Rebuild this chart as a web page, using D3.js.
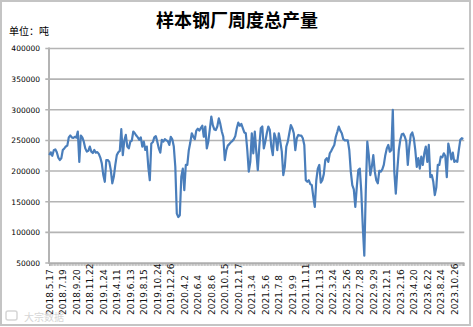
<!DOCTYPE html>
<html>
<head>
<meta charset="utf-8">
<script src="https://cdn.jsdelivr.net/npm/d3@7"></script>
<style>
body { margin: 0; background: #fff; }
</style>
</head>
<body>
<div id="chart"></div>
<script>
// weekly output of sample steel mills (tons)
var output = [
    226000, 230600, 225000, 234000, 235500, 230600, 222000, 218000, 220800, 234400,
    237000, 240000, 241500, 255000, 258000, 255000, 254000, 256000, 254600, 264500,
    215000, 258000, 255000, 248000, 237000, 231700, 233000, 240000, 231700, 229500,
    234400, 230000, 231000, 228000, 222000, 212600, 193500, 182500, 218000, 218000,
    215000, 201600, 180000, 190700, 210000, 226000, 230600, 233000, 268300, 226000,
    249700, 259000, 240000, 237000, 248000, 249700, 264500, 261700, 258000, 255000,
    251000, 255000, 240000, 248000, 234400, 240000, 207000, 185000, 245000,
    247000, 255000, 257000, 248000, 237000, 230000, 251000, 248000, 252000, 250000,
    249000, 242600, 256000, 252000, 240000, 207000, 130600, 125000, 128000, 190700,
    204000, 169000, 210000, 210000, 234000, 246500, 261700, 256000, 252000, 266000,
    269000, 266000, 270000, 274000, 256000, 272700, 237000, 248000, 268000, 289000,
    275000, 268000, 267000, 272700, 286000, 277000, 264500, 256000, 218000, 234000,
    241500, 244000, 247000, 249000, 252000, 257000, 270000, 279000, 274000, 277000,
    270000, 263000, 261700, 234000, 199000, 215000, 261700, 229000, 264500, 231700,
    201600, 240000, 270000, 272700, 237000, 248000, 261700, 272700, 267000, 240000,
    226000, 261700, 253600, 234000, 261700, 248000, 231700, 193500, 207000, 240000,
    248000, 261700, 275000, 270000, 261700, 234000, 253600, 259000, 258000, 258000,
    253600, 242600, 185000, 182500, 185000, 178700, 177000, 158000, 141500, 185000,
    204000, 210000, 181000, 185000, 195000, 218000, 221000, 215000, 229000, 233000,
    238000, 242600, 256000, 264000, 272700, 266000, 261700, 252000, 250000, 250000,
    250000, 234000, 199000, 177000, 170000, 141500, 174000, 201600,
    204000, 166000, 109000, 62000, 169000, 248000, 226000, 193500, 207000, 226000,
    199000, 185000, 180000, 200500, 199000, 202700, 210000, 226000, 237000, 242600,
    231700, 234000, 300000, 199000, 163000, 201600, 234000, 251000, 260000, 261000,
    256000, 248000, 210000, 240000, 259000, 263000, 253600, 234000, 207000, 221000,
    204000, 223500, 210000, 229000, 240000, 215000, 242600, 190000, 193500, 182500,
    160700, 173000, 210000, 210000, 223500, 222400, 229000, 224600, 190000, 245000,
    234000, 219000, 230000, 215000, 217000, 215000, 234000, 251000, 253600, 252500
];

// one date label every 9 weeks
var dateLabels = [
    "2018.5.17", "2018.7.19", "2018.9.20", "2018.11.22", "2019.1.24", "2019.4.11",
    "2019.6.13", "2019.8.15", "2019.10.24", "2019.12.26", "2020.4.2", "2020.6.4",
    "2020.8.6", "2020.10.15", "2020.12.17", "2021.3.4", "2021.5.6", "2021.7.8",
    "2021.9.9", "2021.11.11", "2022.1.13", "2022.3.24", "2022.5.26", "2022.7.28",
    "2022.9.29", "2022.12.1", "2023.2.16", "2023.4.20", "2023.6.22", "2023.8.24",
    "2023.10.26"
];
var labelStep = 9;

var yTicks = [50000, 100000, 150000, 200000, 250000, 300000, 350000, 400000];

var W = 473, H = 327;
var plotLeft = 49.3, plotRight = 463.3, plotTop = 48.5, plotBottom = 263;

var svg = d3.select("#chart").append("svg")
    .attr("width", W)
    .attr("height", H)
    .style("display", "block");

// outer frame
svg.append("rect")
    .attr("x", 1).attr("y", 1)
    .attr("width", W - 4).attr("height", H - 3)
    .attr("fill", "#fff")
    .attr("stroke", "#c4c4c4")
    .attr("stroke-width", 2);

// Title and unit
svg.append("text")
    .text("样本钢厂周度总产量")
    .attr("x", 237)
    .attr("y", 27)
    .attr("text-anchor", "middle")
    .attr("font-family", "Noto Sans CJK SC")
    .attr("font-weight", "bold")
    .attr("font-size", "18px")
    .attr("fill", "#000");

svg.append("text")
    .text("单位：吨")
    .attr("x", 9)
    .attr("y", 35)
    .attr("font-family", "Noto Sans CJK SC")
    .attr("font-size", "10px")
    .attr("fill", "#000");

//Scales
var x = d3.scalePoint()
    .domain(d3.range(output.length))
    .range([plotLeft, plotRight]);

var y = d3.scaleLinear()
    .domain([50000, 400000])
    .range([plotBottom, plotTop]);

//Grid lines
svg.append("g")
    .selectAll("line")
    .data(yTicks)
    .enter().append("line")
    .attr("x1", plotLeft - 4)
    .attr("x2", plotRight + 1)
    .attr("y1", function (d) { return y(d); })
    .attr("y2", function (d) { return y(d); })
    .attr("stroke", "#b4b4b4")
    .attr("stroke-width", 1.6);

//Y Axis labels
var yAxis = svg.append("g")
    .attr("transform", "translate(" + (plotLeft - 0.3) + ",0)")
    .call(d3.axisLeft(y).tickValues(yTicks).tickSize(0).tickPadding(9).tickFormat(d3.format("d")));
yAxis.select(".domain").remove();
yAxis.selectAll("text")
    .attr("font-family", "DejaVu Sans")
    .attr("font-size", "7.5px")
    .attr("fill", "#000");

svg.append("line")
    .attr("x1", plotLeft - 0.3).attr("x2", plotLeft - 0.3)
    .attr("y1", plotTop - 1).attr("y2", plotBottom + 1)
    .attr("stroke", "#b4b4b4")
    .attr("stroke-width", 2);

//X Axis: a small tick for every week
var xMinor = svg.append("g")
    .attr("transform", "translate(0," + plotBottom + ")")
    .call(d3.axisBottom(x).tickSize(3).tickFormat(""));
xMinor.select(".domain")
    .attr("stroke", "#b4b4b4")
    .attr("stroke-width", 1.6);
xMinor.selectAll(".tick line")
    .attr("stroke", "#a8a8a8")
    .attr("stroke-width", 0.8);

//X Axis labels, rotated
var xLabels = svg.append("g")
    .attr("transform", "translate(0," + plotBottom + ")")
    .call(d3.axisBottom(x)
        .tickValues(dateLabels.map(function (d, i) { return i * labelStep; }))
        .tickSize(0)
        .tickFormat(function (d) { return dateLabels[d / labelStep]; }));
xLabels.select(".domain").remove();
xLabels.selectAll("text")
    .attr("transform", "rotate(-90)")
    .attr("text-anchor", "start")
    .attr("x", -52)
    .attr("y", 0)
    .attr("dy", "0.35em")
    .attr("font-family", "DejaVu Sans")
    .attr("font-size", "9px")
    .attr("fill", "#111");

//The line
var line = d3.line()
    .x(function (d, i) { return x(i); })
    .y(function (d) { return y(d); });

svg.append("path")
    .datum(output)
    .attr("d", line)
    .attr("fill", "none")
    .attr("stroke", "#4a7ebb")
    .attr("stroke-width", 2.2)
    .attr("stroke-linejoin", "round");

//Watermark
svg.append("rect")
    .attr("x", 6).attr("y", 311)
    .attr("width", 11).attr("height", 9)
    .attr("rx", 2)
    .attr("fill", "none")
    .attr("stroke", "#d6d6d6")
    .attr("stroke-width", 1.5);

svg.append("text")
    .text("大宗数据")
    .attr("x", 24)
    .attr("y", 321)
    .attr("font-family", "Noto Sans CJK SC")
    .attr("font-size", "10px")
    .attr("fill", "#d6d6d6");
</script>
</body>
</html>
